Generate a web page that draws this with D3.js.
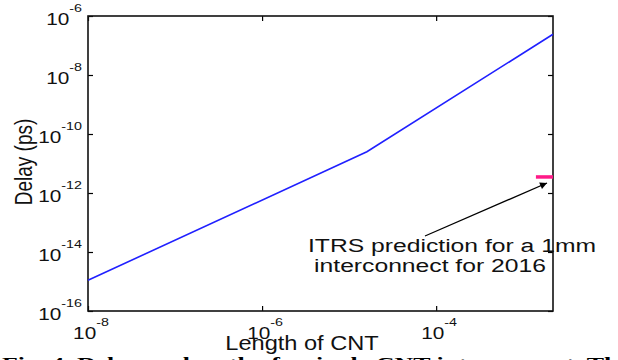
<!DOCTYPE html>
<html><head><meta charset="utf-8">
<script src="https://cdn.jsdelivr.net/npm/d3@7"></script>
<style>html,body{margin:0;padding:0;background:#fff;overflow:hidden}</style>
</head><body>
<svg id="c" width="618" height="360"></svg>
<script>
// Data
const lengths = [1e-8, 1.6e-5, 2.2e-3];
const delays  = [1.1e-15, 2.5e-11, 2.4e-7];
const itrsLengths = [1.4e-3, 2.2e-3];
const itrsDelay = 3.5e-12;
const xTickVals = [1e-8, 1e-6, 1e-4];
const xTickExps = ["-8", "-6", "-4"];
const yTickVals = [1e-16, 1e-14, 1e-12, 1e-10, 1e-8, 1e-6];
const yTickExps = ["-16", "-14", "-12", "-10", "-8", "-6"];
const annotationLines = ["ITRS prediction for a 1mm", "interconnect for 2016"];
const caption = "Fig. 4.  Delay vs. length of a single CNT interconnect. The";

const svg = d3.select("#c");
const L = 88, R = 553, T = 16, B = 311;
const x = d3.scaleLog().domain([1e-8, 2.2e-3]).range([L, R]);
const y = d3.scaleLog().domain([1e-16, 1e-6]).range([B, T]);
const font = "'Liberation Sans', Arial, sans-serif";
const SX = 1.3;

// ticks (inward) on all four sides
const tk = (g, axis) => { g.call(axis); g.select(".domain").remove(); g.selectAll("line").attr("stroke", "#000").attr("stroke-width", 1.2); g.selectAll("text").remove(); };
svg.append("g").attr("transform", `translate(0,${B})`).call(g => tk(g, d3.axisBottom(x).tickValues(xTickVals).tickSize(-5).tickFormat("")));
svg.append("g").attr("transform", `translate(0,${T})`).call(g => tk(g, d3.axisTop(x).tickValues(xTickVals).tickSize(-5).tickFormat("")));
svg.append("g").attr("transform", `translate(${L},0)`).call(g => tk(g, d3.axisLeft(y).tickValues(yTickVals).tickSize(-5).tickFormat("")));
svg.append("g").attr("transform", `translate(${R},0)`).call(g => tk(g, d3.axisRight(y).tickValues(yTickVals).tickSize(-5).tickFormat("")));

// box
svg.append("rect").attr("x", L).attr("y", T).attr("width", R - L).attr("height", B - T)
  .attr("fill", "none").attr("stroke", "#111").attr("stroke-width", 1.6);

// line
const pts = lengths.map((l, i) => [l, delays[i]]);
svg.append("path").datum(pts)
  .attr("d", d3.line().x(d => x(d[0])).y(d => y(d[1])))
  .attr("fill", "none").attr("stroke", "#2020ff").attr("stroke-width", 1.6);

// ITRS marker
svg.append("line").attr("x1", x(itrsLengths[0])).attr("x2", x(itrsLengths[1]))
  .attr("y1", y(itrsDelay)).attr("y2", y(itrsDelay))
  .attr("stroke", "#ff1a88").attr("stroke-width", 3.5);

// tick labels
function tenLabel(g, xPos, yPos, exp, anchor) {
  const t = g.append("text").attr("transform", `translate(${xPos},${yPos}) scale(${SX},1)`)
    .attr("font-family", font).attr("font-size", 16).attr("fill", "#111").attr("text-anchor", anchor);
  t.append("tspan").text("10");
  t.append("tspan").attr("dy", -13).attr("font-size", 11).text(exp);
  return t;
}
const gl = svg.append("g");
yTickVals.forEach((v, i) => tenLabel(gl, 82, y(v) + 9, yTickExps[i], "end"));
xTickVals.forEach((v, i) => tenLabel(gl, x(v) + 3, 339, xTickExps[i], "middle"));

// axis titles
svg.append("text").attr("transform", `translate(32,${162}) rotate(-90) scale(1,${SX})`)
  .attr("text-anchor", "middle").attr("font-family", font).attr("font-size", 19).attr("fill", "#111")
  .text("Delay (ps)");
svg.append("text").attr("transform", `translate(302,350) scale(1.18,1)`)
  .attr("text-anchor", "middle").attr("font-family", font).attr("font-size", 20).attr("fill", "#111")
  .text("Length of CNT");

// annotation
const defs = svg.append("defs");
defs.append("marker").attr("id", "ah").attr("viewBox", "0 0 10 10").attr("refX", 10).attr("refY", 5)
  .attr("markerWidth", 10).attr("markerHeight", 7).attr("markerUnits", "userSpaceOnUse").attr("orient", "auto")
  .append("path").attr("d", "M0,0L10,5L0,10z").attr("fill", "#000");
svg.append("line").attr("x1", 425).attr("y1", 236).attr("x2", 547).attr("y2", 183)
  .attr("stroke", "#000").attr("stroke-width", 1.3).attr("marker-end", "url(#ah)");
annotationLines.forEach((s, i) => {
  svg.append("text").attr("transform", `translate(${i === 0 ? 452 : 430},${252 + i * 20}) scale(${SX},1)`)
    .attr("text-anchor", "middle").attr("font-family", font).attr("font-size", 19).attr("fill", "#111")
    .text(s);
});

// caption (clipped at bottom)
svg.append("text").attr("x", 2).attr("y", 369).attr("font-family", "'Liberation Serif', 'Times New Roman', serif")
  .attr("font-weight", "bold").attr("font-size", 17).attr("fill", "#000")
  .attr("textLength", 628).attr("lengthAdjust", "spacingAndGlyphs").text(caption);
</script>
</body></html>
